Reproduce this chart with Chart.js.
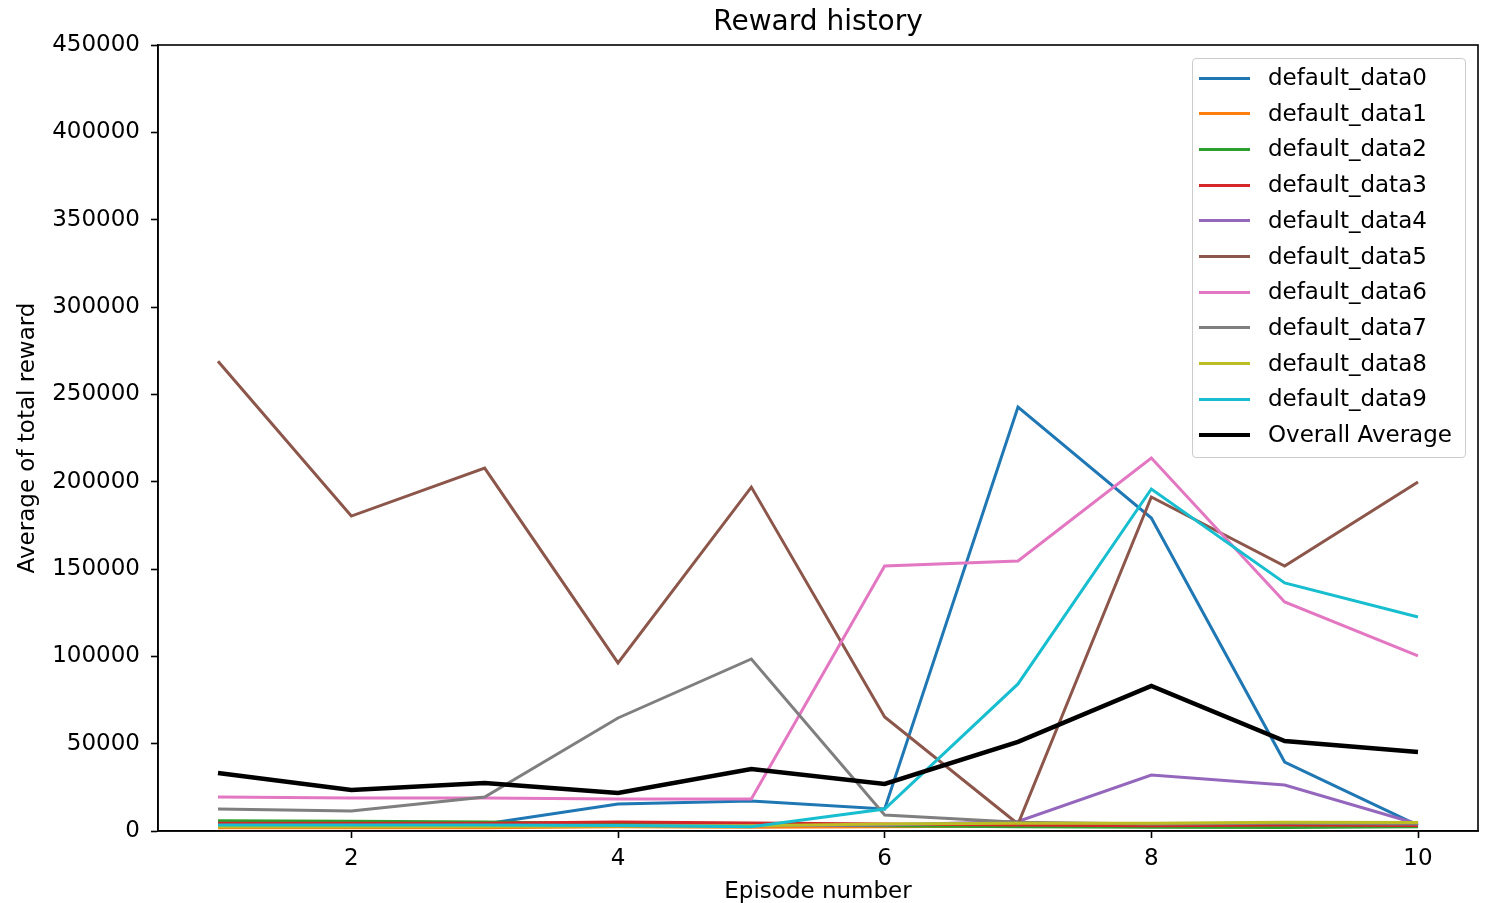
<!DOCTYPE html>
<html>
<head>
<meta charset="utf-8">
<script src="https://cdn.jsdelivr.net/npm/chart.js@4/dist/chart.umd.min.js"></script>
<style>
  html, body { margin: 0; padding: 0; background: #fff; }
  #wrap { position: relative; width: 1491px; height: 903px; }
  #legend {
    position: absolute; left: 1192px; top: 58px; width: 272px; height: 398px;
    border: 1px solid #cccccc; border-radius: 4px; background: rgba(255,255,255,0.8);
    box-sizing: content-box; font-family: "DejaVu Sans", sans-serif; font-size: 23px; color: #000;
  }
  #legend .row { position: absolute; left: 0; height: 36px; display: flex; align-items: center; }
  #legend .swatch { position: absolute; left: 6px; width: 51px; }
  #legend .label { position: absolute; left: 75px; white-space: nowrap; line-height: 36px; top: -1px; }
</style>
</head>
<body>
<div id="wrap">
  <canvas id="chart" width="1491" height="903"></canvas>
  <div id="legend"></div>
</div>
<script>
// Episode numbers along the x axis
const episodes = [1, 2, 3, 4, 5, 6, 7, 8, 9, 10];

// Average total reward per episode for each data set
const data0 = [4200, 4200, 4000, 15500, 17200, 12600, 242700, 179200, 39500, 3200];
const data1 = [1800, 1800, 1900, 2500, 2200, 2500, 2800, 2800, 3000, 2900];
const data2 = [5800, 5600, 5200, 4200, 3500, 3000, 2500, 2200, 2000, 2500];
const data3 = [4500, 4500, 4500, 5200, 4600, 4000, 3500, 3000, 3500, 3200];
const data4 = [3000, 3000, 3000, 3200, 3000, 3500, 5500, 32000, 26300, 4000];
const data5 = [269000, 180300, 207800, 96200, 196900, 65300, 4000, 191200, 151700, 199800];
const data6 = [19500, 18900, 18900, 18300, 18300, 151700, 154600, 213500, 131100, 100200];
const data7 = [12600, 11500, 19500, 64700, 98500, 9200, 5000, 4000, 4500, 4000];
const data8 = [2500, 2500, 2600, 2800, 3000, 4000, 4500, 4500, 5000, 4800];
const data9 = [3500, 3500, 3500, 3200, 2500, 12600, 84200, 195800, 142000, 122500];
const overallAverage = [33200, 23500, 27500, 21800, 35500, 26900, 51000, 83000, 51500, 45200];

const seriesNames = ["default_data0", "default_data1", "default_data2", "default_data3", "default_data4",
                     "default_data5", "default_data6", "default_data7", "default_data8", "default_data9"];
const seriesValues = [data0, data1, data2, data3, data4, data5, data6, data7, data8, data9];
const seriesColors = ["#1f77b4", "#ff7f0e", "#2ca02c", "#d62728", "#9467bd",
                      "#8c564b", "#e377c2", "#7f7f7f", "#bcbd22", "#17becf"];

// Tick labels
const xTicks = [2, 4, 6, 8, 10];
const yTicks = [0, 50000, 100000, 150000, 200000, 250000, 300000, 350000, 400000, 450000];

const FONT = "'DejaVu Sans', sans-serif";

const toPoints = vals => episodes.map((e, i) => ({ x: e, y: vals[i] }));

const datasets = seriesValues.map((vals, i) => ({
  label: seriesNames[i],
  data: toPoints(vals),
  borderColor: seriesColors[i],
  backgroundColor: seriesColors[i],
  borderWidth: 3,
  pointRadius: 0,
  tension: 0,
  order: 10 - i
}));
datasets.push({
  label: "Overall Average",
  data: toPoints(overallAverage),
  borderColor: "#000000",
  backgroundColor: "#000000",
  borderWidth: 4.5,
  pointRadius: 0,
  tension: 0,
  order: 0
});

// Frame around the plotting area (all four spines)
const frame = {
  id: "frame",
  afterDatasetsDraw(chart) {
    const a = chart.chartArea, ctx = chart.ctx;
    ctx.save();
    ctx.strokeStyle = "#000";
    ctx.lineWidth = 1.6;
    ctx.strokeRect(a.left, a.top, a.right - a.left, a.bottom - a.top);
    ctx.restore();
  }
};

const axisGrid = { display: true, drawOnChartArea: false, drawTicks: true, tickLength: 7, tickWidth: 1.6, color: "#000" };

new Chart(document.getElementById("chart"), {
  type: "line",
  data: { datasets },
  plugins: [frame],
  options: {
    responsive: false,
    animation: false,
    devicePixelRatio: 1,
    layout: { padding: { left: 0, right: 13, top: 0, bottom: 0 } },
    plugins: {
      legend: { display: false },
      tooltip: { enabled: false },
      title: {
        display: true,
        fullSize: false,
        text: "Reward history",
        color: "#000",
        font: { family: FONT, size: 28, weight: "normal" },
        padding: { top: 6, bottom: 5.4 }
      }
    },
    scales: {
      x: {
        type: "linear",
        min: 0.55,
        max: 10.45,
        afterBuildTicks: s => { s.ticks = xTicks.map(v => ({ value: v })); },
        afterFit: s => { s.height = 72; },
        grid: axisGrid,
        border: { display: true, color: "#000", width: 1.6 },
        ticks: { color: "#000", padding: 7, font: { family: FONT, size: 23 }, callback: v => String(v), maxRotation: 0 },
        title: { display: true, text: "Episode number", color: "#000", font: { family: FONT, size: 23 }, padding: { top: 0, bottom: -3 } }
      },
      y: {
        type: "linear",
        min: 0,
        max: 450000,
        afterBuildTicks: s => { s.ticks = yTicks.map(v => ({ value: v })); },
        afterFit: s => { s.width = 158; },
        grid: axisGrid,
        border: { display: true, color: "#000", width: 1.6 },
        ticks: { color: "#000", padding: 11, font: { family: FONT, size: 23 }, callback: v => String(v) },
        title: { display: true, text: "Average of total reward", color: "#000", font: { family: FONT, size: 23 }, padding: { top: 14, bottom: 0 } }
      }
    }
  }
});

// Legend box in the upper right corner of the plot
const legend = document.getElementById("legend");
const legendItems = datasets.map(d => ({ label: d.label, color: d.borderColor, width: d.borderWidth }));
legendItems.forEach((item, i) => {
  const row = document.createElement("div");
  row.className = "row";
  row.style.top = (1 + i * 35.7) + "px";
  row.style.width = "272px";
  const sw = document.createElement("div");
  sw.className = "swatch";
  sw.style.height = item.width + "px";
  sw.style.background = item.color;
  sw.style.top = (18 - item.width / 2) + "px";
  const lb = document.createElement("div");
  lb.className = "label";
  lb.textContent = item.label;
  row.appendChild(sw);
  row.appendChild(lb);
  legend.appendChild(row);
});
</script>
</body>
</html>
